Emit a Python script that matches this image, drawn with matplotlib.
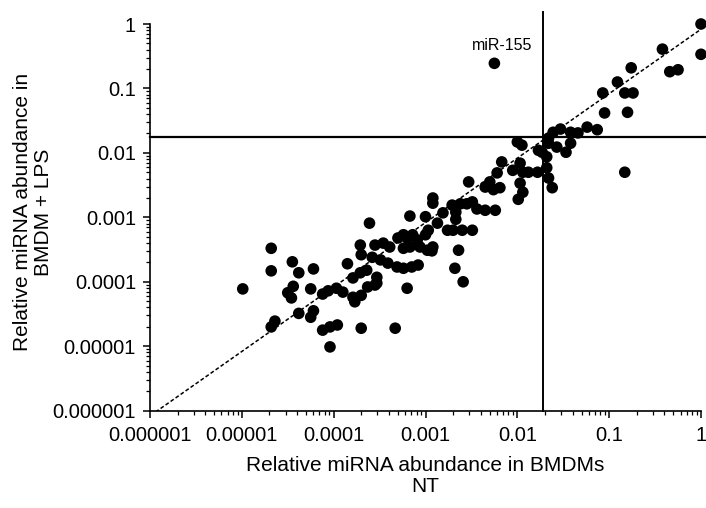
import numpy as np
import matplotlib.pyplot as plt
from matplotlib.ticker import FixedLocator, LogLocator, NullFormatter

plt.rcParams['font.family'] = ['Liberation Sans', 'DejaVu Sans']

# log10 of relative miRNA abundance
# x: BMDMs NT, y: BMDM + LPS
nt_log10 = [
    0.0, 0.0, -0.42, -0.34, -0.25, -0.76, -0.91, -1.07, -0.83, -0.74,
    -1.05, -0.80, -2.25, -1.61, -1.53, -1.42, -1.34, -1.24, -1.13, -1.66,
    -1.66, -1.57, -1.42, -1.47, -1.73, -1.68, -2.00, -1.95, -1.77, -2.17,
    -2.22, -1.97, -2.05, -1.94, -1.88, -1.78, -1.68, -1.66, -0.83, -1.62,
    -2.30, -2.19, -1.97, -1.94, -1.99, -2.53, -2.35, -2.26, -2.92, -2.92,
    -2.71, -2.62, -2.55, -2.49, -2.44, -2.35, -2.24, -2.67, -2.67, -2.81,
    -3.00, -3.17, -2.87, -3.61, -2.76, -2.70, -2.60, -2.49, -2.97, -3.00,
    -3.24, -3.20, -3.14, -3.09, -3.06, -3.17, -3.24, -2.92, -2.93, -2.98,
    -3.46, -3.39, -3.55, -3.49, -3.41, -3.31, -3.24, -3.15, -3.08, -3.58,
    -3.70, -2.64, -2.68, -2.59, -3.20, -3.53, -3.55, -3.71, -3.30, -3.85,
    -3.79, -3.71, -3.64, -3.79, -3.77, -3.70, -3.63, -3.53, -4.12, -4.06,
    -3.97, -3.90, -4.68, -4.68, -4.99, -4.45, -4.38, -4.22, -4.44, -4.50,
    -4.46, -4.25, -4.38, -4.22, -4.25, -4.64, -4.68, -4.12, -4.04, -3.96,
    -3.70, -3.33, -4.04,
]
lps_log10 = [
    0.0, -0.47, -0.39, -0.74, -0.71, -0.68, -0.90, -1.07, -1.07, -1.07,
    -1.38, -1.37, -0.61, -1.68, -1.63, -1.68, -1.69, -1.60, -1.64, -1.77,
    -1.85, -1.91, -1.85, -1.99, -1.99, -2.06, -1.83, -1.88, -1.96, -2.14,
    -2.31, -2.16, -2.27, -2.30, -2.30, -2.30, -2.23, -2.39, -2.30, -2.54,
    -2.45, -2.54, -2.47, -2.61, -2.72, -2.45, -2.53, -2.57, -2.70, -2.78,
    -2.81, -2.79, -2.79, -2.76, -2.87, -2.89, -2.89, -2.92, -3.03, -2.93,
    -2.99, -2.98, -3.09, -3.09, -3.20, -3.20, -3.20, -3.20, -3.20, -3.27,
    -3.27, -3.32, -3.27, -3.35, -3.46, -3.46, -3.48, -3.46, -3.52, -3.51,
    -3.40, -3.46, -3.43, -3.66, -3.71, -3.77, -3.79, -3.77, -3.74, -3.62,
    -3.58, -3.51, -3.79, -4.00, -4.10, -3.93, -4.05, -3.43, -3.32, -3.72,
    -3.94, -3.86, -3.82, -4.24, -4.31, -4.21, -4.08, -4.02, -4.19, -4.14,
    -4.10, -4.16, -3.48, -3.83, -4.11, -3.69, -3.86, -3.80, -4.07, -4.17,
    -4.25, -4.11, -4.49, -4.45, -4.55, -4.61, -4.70, -4.75, -4.70, -4.67,
    -4.72, -4.72, -5.01,
]

nt = 10.0 ** np.array(nt_log10)
lps = 10.0 ** np.array(lps_log10)

# cut-off lines and fitted trend
nt_cutoff = 0.0192
lps_cutoff = 0.0178
fit_factor = 0.83
fit_x = [1.15e-6, 1.0]

tick_vals = [1e-6, 1e-5, 1e-4, 1e-3, 1e-2, 1e-1, 1]
tick_text = ['0.000001', '0.00001', '0.0001', '0.001', '0.01', '0.1', '1']

fig = plt.figure(figsize=(7.06, 5.08), dpi=100)
ax = fig.add_axes([150 / 706, 1 - 410.7 / 508, 551 / 706, 386.7 / 508])

ax.scatter(nt, lps, s=70, color='black', edgecolors='none', zorder=3, clip_on=False)
ax.plot(fit_x, [v * fit_factor for v in fit_x], color='black', lw=1.1,
        linestyle=(0, (2.5, 1.5)), zorder=2)
ax.axvline(nt_cutoff, color='black', lw=1.4, ymax=1.03, clip_on=False)
ax.axhline(lps_cutoff, color='black', lw=1.6, xmax=1.01, clip_on=False)

ax.annotate('miR-155', xy=(0.0056, 0.25), xytext=(0.0068, 0.47),
            ha='center', va='center', fontsize=11.5)

ax.set_xscale('log')
ax.set_yscale('log')
ax.set_xlim(1e-6, 1)
ax.set_ylim(1e-6, 1)

for axis in (ax.xaxis, ax.yaxis):
    axis.set_major_locator(FixedLocator(tick_vals))
    axis.set_minor_locator(LogLocator(base=10, subs=np.arange(2, 10)))
    axis.set_minor_formatter(NullFormatter())
ax.set_xticklabels(tick_text)
ax.set_yticklabels(tick_text)

ax.tick_params(which='major', length=5, width=1.1, labelsize=14.5, direction='out')
ax.tick_params(axis='x', which='major', pad=6)
ax.tick_params(axis='y', which='major', pad=5)
ax.tick_params(which='minor', length=3, width=0.9, direction='out')

for side in ('top', 'right'):
    ax.spines[side].set_visible(False)
for side in ('left', 'bottom'):
    ax.spines[side].set_linewidth(1.2)

ax.set_xlabel('Relative miRNA abundance in BMDMs\nNT', fontsize=15, labelpad=8,
              linespacing=1.15)
ax.set_ylabel('Relative miRNA abundance in\nBMDM + LPS', fontsize=15,
              linespacing=1.15)
ax.yaxis.set_label_coords(-0.176, 0.514)

fig.savefig('out.png', dpi=100)
